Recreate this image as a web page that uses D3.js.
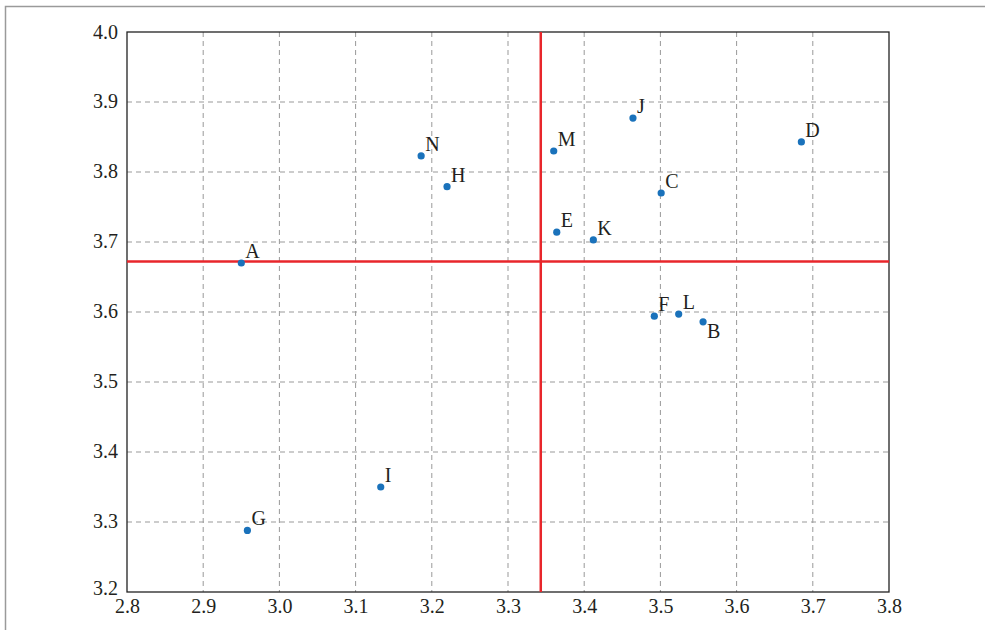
<!DOCTYPE html>
<html><head><meta charset="utf-8">
<script src="https://cdn.jsdelivr.net/npm/d3@7"></script>
<style>body{margin:0;background:#fff}svg{display:block}</style>
</head><body>
<script>
const labels = ["A","B","C","D","E","F","G","H","I","J","K","L","M","N"];
const xValues = [2.950,3.556,3.501,3.685,3.364,3.492,2.958,3.220,3.133,3.464,3.412,3.524,3.360,3.186];
const yValues = [3.670,3.586,3.770,3.843,3.714,3.594,3.288,3.779,3.350,3.877,3.703,3.597,3.830,3.823];
const xTicks = [2.8,2.9,3.0,3.1,3.2,3.3,3.4,3.5,3.6,3.7,3.8];
const yTicks = [3.2,3.3,3.4,3.5,3.6,3.7,3.8,3.9,4.0];
const refX = 3.343;
const refY = 3.672;
// label placement: "ur" up-right, "dr" down-right
const placement = {B:"dr"};

const W=985,H=630;
const m={left:127,top:32,right:889,bottom:592};
const svg=d3.select("body").append("svg").attr("width",W).attr("height",H);
const font="'Liberation Serif','Times New Roman',serif";
const ink="#231f20";

// outer frame
svg.append("path").attr("d",`M5.5,${H+2} V6.5 H${W+2}`).attr("fill","none").attr("stroke","#9a9a9a").attr("stroke-width",1.5);

const x=d3.scaleLinear().domain([2.8,3.8]).range([m.left,m.right]);
const y=d3.scaleLinear().domain([3.2,4.0]).range([m.bottom,m.top]);

// grid
const g=svg.append("g");
g.selectAll(".gx").data(xTicks.slice(1,-1)).join("line")
 .attr("x1",d=>x(d)).attr("x2",d=>x(d)).attr("y1",m.top).attr("y2",m.bottom)
 .attr("stroke","#999").attr("stroke-width",1).attr("stroke-dasharray","5,4");
g.selectAll(".gy").data(yTicks.slice(1,-1)).join("line")
 .attr("y1",d=>y(d)).attr("y2",d=>y(d)).attr("x1",m.left).attr("x2",m.right)
 .attr("stroke","#999").attr("stroke-width",1).attr("stroke-dasharray","5,4");

// frame
svg.append("rect").attr("x",m.left).attr("y",m.top).attr("width",m.right-m.left).attr("height",m.bottom-m.top)
 .attr("fill","none").attr("stroke","#222").attr("stroke-width",1.3);

// axes (labels only)
const xa=svg.append("g").attr("transform",`translate(0,${m.bottom})`)
 .call(d3.axisBottom(x).tickValues(xTicks).tickFormat(d3.format(".1f")).tickSize(0).tickPadding(7));
const ya=svg.append("g").attr("transform",`translate(${m.left},0)`)
 .call(d3.axisLeft(y).tickValues(yTicks).tickFormat(d3.format(".1f")).tickSize(0).tickPadding(9));
[xa,ya].forEach(a=>{a.select(".domain").remove();a.selectAll("text").attr("font-family",font).attr("font-size",20).attr("fill",ink);});
ya.selectAll("text").attr("dy","0.28em");
ya.selectAll(".tick").filter(d=>d===3.2).select("text").attr("dy","0.1em");
ya.selectAll(".tick").filter(d=>d===4.0).select("text").attr("dy","0.3em");

// reference lines
svg.append("line").attr("x1",x(refX)).attr("x2",x(refX)).attr("y1",m.top).attr("y2",m.bottom)
 .attr("stroke","#e8262b").attr("stroke-width",2.5);
svg.append("line").attr("x1",m.left).attr("x2",m.right).attr("y1",y(refY)).attr("y2",y(refY))
 .attr("stroke","#e8262b").attr("stroke-width",2.5);

// points
const pts=labels.map((l,i)=>({l,x:xValues[i],y:yValues[i]}));
svg.selectAll("circle.p").data(pts).join("circle")
 .attr("cx",d=>x(d.x)).attr("cy",d=>y(d.y)).attr("r",3.6).attr("fill","#1a72bb");
svg.selectAll("text.lab").data(pts).join("text")
 .attr("x",d=>x(d.x)+4).attr("y",d=>placement[d.l]==="dr"?y(d.y)+16:y(d.y)-5)
 .attr("font-family",font).attr("font-size",20).attr("fill",ink).text(d=>d.l);
</script>
</body></html>
